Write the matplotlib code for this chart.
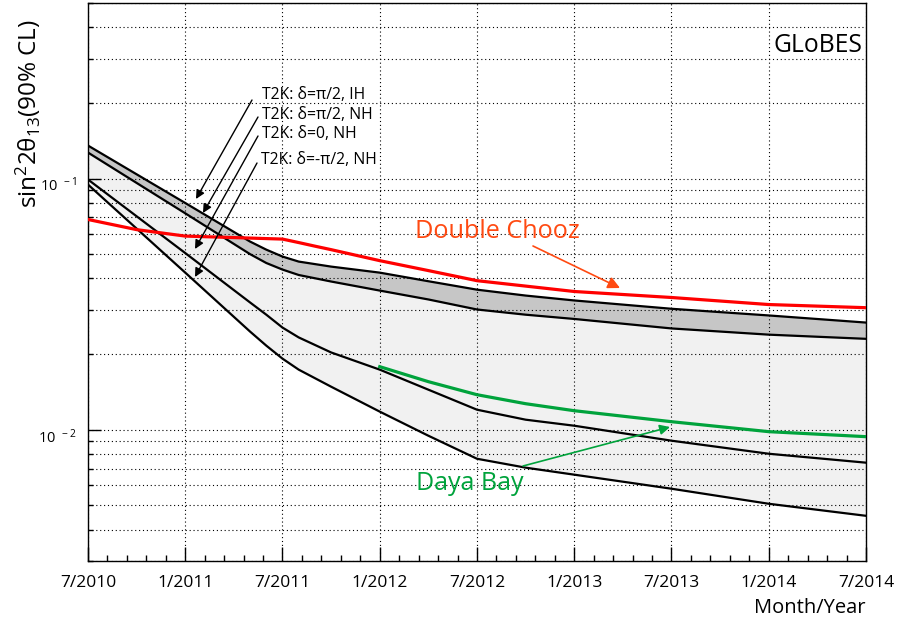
import matplotlib
matplotlib.use("Agg")
import matplotlib.pyplot as plt
from matplotlib.ticker import FixedLocator, FixedFormatter, LogLocator, NullFormatter
from matplotlib.transforms import ScaledTranslation
import numpy as np

# ---------------- data (months since 7/2010) ----------------
months_t2k = [0, 6, 10, 11, 12, 13, 15, 18, 21, 24, 27, 30, 36, 42, 48]
t2k_pi2_ih = [0.1353, 0.0799, 0.0561, 0.0521, 0.0489, 0.0467, 0.0446, 0.0422,
              0.0390, 0.0361, 0.0342, 0.0327, 0.0303, 0.0285, 0.0267]
t2k_pi2_nh = [0.1269, 0.0727, 0.0500, 0.0461, 0.0434, 0.0413, 0.0389, 0.0358,
              0.0330, 0.0301, 0.0287, 0.0276, 0.0253, 0.0239, 0.0230]
t2k_0_nh = [0.0991, 0.0505, 0.0321, 0.0287, 0.0255, 0.0233, 0.0203, 0.01734,
            0.01443, 0.01201, 0.01096, 0.01037, 0.00904, 0.00802, 0.00739]
t2k_mpi2_nh = [0.0946, 0.0422, 0.02458, 0.02161, 0.01918, 0.01734, 0.01483, 0.01180,
               0.00946, 0.00766, 0.00706, 0.00662, 0.00582, 0.00507, 0.00454]

months_dc = [0, 3, 6, 9, 12, 13, 14, 15, 18, 21, 24, 30, 36, 42, 48]
double_chooz = [0.0687, 0.0626, 0.0590, 0.0582, 0.0574, 0.0556, 0.0538, 0.0521, 0.0471,
                0.0430, 0.0392, 0.0355, 0.0336, 0.0315, 0.0306]

months_db = [18, 21, 24, 27, 30, 36, 42, 48]
daya_bay = [0.01782, 0.01553, 0.01378, 0.01269, 0.01190, 0.01076, 0.00982, 0.00938]

tick_months = [0, 6, 12, 18, 24, 30, 36, 42, 48]
tick_labels = ["7/2010", "1/2011", "7/2011", "1/2012", "7/2012",
               "1/2013", "7/2013", "1/2014", "7/2014"]
ytick_vals = [0.01, 0.1]
ytick_labels = [r"10$^{\,\,\,-2}$", r"10$^{\,\,\,-1}$"]

t2k_labels = ["T2K: δ=π/2, IH", "T2K: δ=π/2, NH", "T2K: δ=0, NH", "T2K: δ=-π/2, NH"]

# ---------------- style ----------------
plt.rcParams["font.family"] = ["Open Sans", "DejaVu Sans"]
plt.rcParams["mathtext.fontset"] = "custom"
plt.rcParams["mathtext.rm"] = "Open Sans"
plt.rcParams["mathtext.it"] = "Open Sans"
plt.rcParams["mathtext.bf"] = "Open Sans:bold"

RED = "#ff0000"
ORANGE = "#ff4a12"
GREEN = "#00a33c"
W, H = 904, 623

fig = plt.figure(figsize=(9.04, 6.23), dpi=100)
ax = fig.add_axes([88 / W, 1 - 561 / H, (866 - 88) / W, (561 - 3) / H])
ax.set_yscale("log")
ax.set_xlim(0, 48)
ax.set_ylim(3e-3, 0.5)

# fills
ax.fill_between(months_t2k, t2k_pi2_nh, t2k_mpi2_nh, color="#f1f1f1", lw=0, zorder=1)
ax.fill_between(months_t2k, t2k_pi2_ih, t2k_pi2_nh, color="#c6c6c6", lw=0, zorder=1)

for series in (t2k_pi2_ih, t2k_pi2_nh, t2k_0_nh, t2k_mpi2_nh):
    ax.plot(months_t2k, series, color="black", lw=1.6, zorder=3, solid_joinstyle="round")
ax.plot(months_dc, double_chooz, color=RED, lw=2.3, zorder=3, solid_joinstyle="round")
ax.plot(months_db, daya_bay, color=GREEN, lw=2.3, zorder=3, solid_joinstyle="round")

# axes / ticks
ax.xaxis.set_major_locator(FixedLocator(tick_months))
ax.xaxis.set_major_formatter(FixedFormatter(tick_labels))
ax.xaxis.set_minor_locator(FixedLocator(np.arange(0, 48.01, 1.2)))
ax.yaxis.set_major_locator(FixedLocator(ytick_vals))
ax.yaxis.set_major_formatter(FixedFormatter(ytick_labels))
ax.yaxis.set_minor_locator(LogLocator(base=10, subs=np.arange(2, 10)))
ax.yaxis.set_minor_formatter(NullFormatter())

ax.tick_params(axis="x", which="major", direction="in", length=10, width=1, labelsize=12.5, pad=10)
ax.tick_params(axis="x", which="minor", direction="in", length=4.5, width=1)
ax.tick_params(axis="y", which="major", direction="in", length=9, width=1, labelsize=10.5, pad=8)
ax.tick_params(axis="y", which="minor", direction="in", length=3.5, width=1)
for s in ax.spines.values():
    s.set_linewidth(1.0)

grid_kw = dict(color="black", lw=0.8, ls=(0, (1, 2.5)))
ax.grid(True, which="major", axis="x", **grid_kw)
ax.grid(True, which="both", axis="y", **grid_kw)
ax.set_axisbelow(False)

fig.canvas.draw()
for lab in ax.get_yticklabels():
    lab.set_transform(lab.get_transform() + ScaledTranslation(0, -4 / 72, fig.dpi_scale_trans))

# labels
fig.text(28 / W, 1 - 114 / H, r"sin$^{2}$2$\theta_{13}$(90% CL)", rotation=90,
         fontsize=17.5, ha="center", va="center")
fig.text(866 / W, 1 - 608 / H, "Month/Year", ha="right", va="center", fontsize=14.5)
fig.text(862 / W, 1 - 45 / H, "GLoBES", ha="right", va="center", fontsize=17.8)

# T2K annotations
text_pos = [(262, 95), (262, 115), (262, 134), (261, 160)]
arrow_start = [(252, 100), (258, 117), (258, 136), (257, 163)]
arrow_tip = [(196, 199), (203, 213), (195, 249), (195, 277)]
for lab, tp, st, tip in zip(t2k_labels, text_pos, arrow_start, arrow_tip):
    fig.text(tp[0] / W, 1 - tp[1] / H, lab, fontsize=11.3, ha="left", va="center")
    ax.annotate("", xy=(tip[0], H - tip[1]), xycoords="figure pixels",
                xytext=(st[0], H - st[1]), textcoords="figure pixels",
                arrowprops=dict(arrowstyle="-|>", color="black", lw=1.0,
                                mutation_scale=13, shrinkA=0, shrinkB=0))

# Double Chooz
fig.text(415 / W, 1 - 231 / H, "Double Chooz", color=ORANGE, fontsize=18.2,
         ha="left", va="center")
ax.annotate("", xy=(620, H - 288), xycoords="figure pixels",
            xytext=(533, H - 246), textcoords="figure pixels",
            arrowprops=dict(arrowstyle="-|>", color=ORANGE, lw=1.2,
                            mutation_scale=18, shrinkA=0, shrinkB=0))

# Daya Bay
fig.text(416 / W, 1 - 484 / H, "Daya Bay", color=GREEN, fontsize=18,
         ha="left", va="center")
ax.annotate("", xy=(670, H - 427), xycoords="figure pixels",
            xytext=(523, H - 466), textcoords="figure pixels",
            arrowprops=dict(arrowstyle="-|>", color=GREEN, lw=1.2,
                            mutation_scale=15, shrinkA=0, shrinkB=0))

fig.savefig("out.png", dpi=100)
